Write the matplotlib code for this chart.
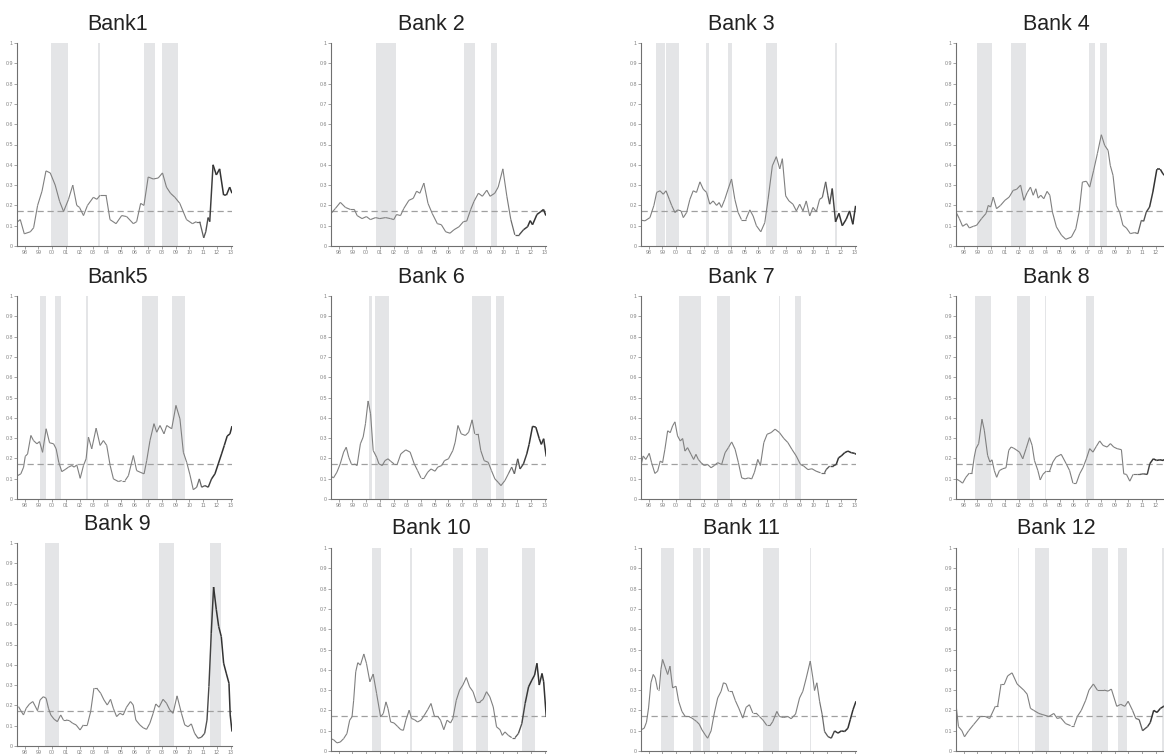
import numpy as np
import matplotlib
matplotlib.use("Agg")
import matplotlib.pyplot as plt
from matplotlib.collections import LineCollection

plt.rcParams['font.family'] = ['Liberation Sans', 'DejaVu Sans']

titles = ["Bank1", "Bank 2", "Bank 3", "Bank 4", "Bank5", "Bank 6",
          "Bank 7", "Bank 8", "Bank 9", "Bank 10", "Bank 11", "Bank 12"]

bank1_t = [1997.50, 1997.69, 1997.98, 1998.42, 1998.66, 1998.95, 1999.27, 1999.56, 1999.87, 2000.23,
           2000.55, 2000.84, 2001.20, 2001.51, 2001.80, 2002.00, 2002.29, 2002.58, 2003.01, 2003.26,
           2003.50, 2003.93, 2004.22, 2004.66, 2005.07, 2005.43, 2005.92, 2006.16, 2006.45, 2006.69,
           2007.00, 2007.37, 2007.73, 2008.04, 2008.33, 2008.62, 2008.94, 2009.30, 2009.79, 2010.22,
           2010.51, 2010.75, 2011.04, 2011.19, 2011.36, 2011.48, 2011.72, 2011.96, 2012.20, 2012.49,
           2012.69, 2012.93, 2013.10]
bank1_v = [0.12, 0.13, 0.06, 0.07, 0.09, 0.20, 0.27, 0.37, 0.36, 0.30,
           0.22, 0.17, 0.23, 0.30, 0.20, 0.19, 0.15, 0.20, 0.24, 0.23,
           0.25, 0.25, 0.13, 0.11, 0.15, 0.145, 0.11, 0.12, 0.21, 0.20,
           0.34, 0.33, 0.335, 0.36, 0.29, 0.26, 0.24, 0.21, 0.13, 0.11,
           0.12, 0.12, 0.04, 0.07, 0.14, 0.12, 0.40, 0.35, 0.38, 0.25,
           0.25, 0.29, 0.26]
bank1_shade = [(1999.92, 2001.15), (2003.38, 2003.46), (2006.69, 2007.49), (2008.04, 2009.18)]

bank2_t = [1997.45, 1997.77, 1998.13, 1998.50, 1998.86, 1999.15, 1999.35, 1999.71, 2000.03, 2000.32,
           2000.69, 2001.00, 2001.42, 2001.78, 2002.02, 2002.22, 2002.51, 2002.75, 2003.12, 2003.44,
           2003.68, 2003.92, 2004.21, 2004.51, 2004.82, 2005.19, 2005.48, 2005.80, 2006.11, 2006.40,
           2006.77, 2007.09, 2007.33, 2007.62, 2007.86, 2008.18, 2008.47, 2008.79, 2009.03, 2009.37,
           2009.62, 2009.96, 2010.25, 2010.54, 2010.83, 2011.15, 2011.46, 2011.76, 2011.95, 2012.12,
           2012.44, 2012.73, 2012.92, 2013.09]
bank2_v = [0.16, 0.185, 0.215, 0.19, 0.18, 0.18, 0.15, 0.135, 0.145, 0.13,
           0.14, 0.135, 0.14, 0.135, 0.13, 0.155, 0.15, 0.185, 0.225, 0.235,
           0.27, 0.26, 0.31, 0.21, 0.16, 0.11, 0.105, 0.07, 0.063, 0.08,
           0.095, 0.12, 0.123, 0.18, 0.22, 0.26, 0.245, 0.275, 0.245, 0.26,
           0.29, 0.38, 0.245, 0.13, 0.055, 0.055, 0.08, 0.095, 0.125, 0.105,
           0.155, 0.17, 0.18, 0.15]
bank2_shade = [(2000.76, 2002.15), (2007.16, 2007.96), (2009.10, 2009.54)]

bank3_t = [1997.45, 1997.74, 1998.10, 1998.39, 1998.59, 1998.83, 1999.07, 1999.27, 1999.51, 1999.68,
           1999.92, 2000.11, 2000.36, 2000.53, 2000.77, 2001.01, 2001.25, 2001.49, 2001.74, 2001.98,
           2002.22, 2002.46, 2002.70, 2002.95, 2003.14, 2003.31, 2003.55, 2003.79, 2004.04, 2004.28,
           2004.52, 2004.76, 2005.08, 2005.37, 2005.61, 2005.85, 2006.17, 2006.46, 2006.70, 2007.01,
           2007.30, 2007.55, 2007.74, 2007.98, 2008.22, 2008.51, 2008.76, 2009.00, 2009.24, 2009.48,
           2009.73, 2009.97, 2010.21, 2010.45, 2010.65, 2010.89, 2011.06, 2011.18, 2011.37, 2011.61,
           2011.86, 2012.10, 2012.39, 2012.63, 2012.87, 2013.07]
bank3_v = [0.127, 0.124, 0.14, 0.20, 0.264, 0.272, 0.255, 0.272, 0.23, 0.20,
           0.165, 0.178, 0.173, 0.14, 0.165, 0.23, 0.272, 0.264, 0.316, 0.28,
           0.264, 0.206, 0.222, 0.20, 0.214, 0.19, 0.23, 0.28, 0.33, 0.23,
           0.165, 0.13, 0.13, 0.178, 0.148, 0.10, 0.07, 0.115, 0.23, 0.395,
           0.44, 0.38, 0.43, 0.247, 0.222, 0.206, 0.173, 0.206, 0.173, 0.222,
           0.148, 0.19, 0.168, 0.23, 0.239, 0.316, 0.247, 0.206, 0.283, 0.119,
           0.161, 0.10, 0.132, 0.173, 0.107, 0.198]
bank3_shade = [(1998.54, 1999.19), (1999.27, 2000.23), (2002.20, 2002.37), (2003.75, 2004.11),
               (2006.58, 2007.36), (2011.59, 2011.74)]

bank4_t = [1997.45, 1997.69, 1997.93, 1998.22, 1998.42, 1998.71, 1998.95, 1999.31, 1999.63, 1999.80,
           1999.97, 2000.16, 2000.40, 2000.69, 2001.01, 2001.32, 2001.61, 2001.86, 2002.15, 2002.39,
           2002.63, 2002.87, 2003.07, 2003.26, 2003.43, 2003.62, 2003.84, 2004.08, 2004.28, 2004.47,
           2004.76, 2005.13, 2005.44, 2005.85, 2006.17, 2006.41, 2006.65, 2006.94, 2007.18, 2007.47,
           2007.74, 2008.03, 2008.27, 2008.52, 2008.68, 2008.88, 2009.12, 2009.36, 2009.60, 2009.85,
           2010.14, 2010.45, 2010.69, 2010.94, 2011.11, 2011.30, 2011.54, 2011.78, 2012.07, 2012.32,
           2012.51, 2012.63, 2012.85, 2013.05]
bank4_v = [0.167, 0.135, 0.097, 0.11, 0.089, 0.097, 0.102, 0.135, 0.16, 0.20,
           0.192, 0.241, 0.184, 0.20, 0.225, 0.241, 0.274, 0.279, 0.30, 0.225,
           0.263, 0.29, 0.25, 0.282, 0.236, 0.25, 0.233, 0.269, 0.25, 0.167,
           0.094, 0.053, 0.033, 0.044, 0.085, 0.167, 0.315, 0.319, 0.29, 0.373,
           0.455, 0.548, 0.496, 0.471, 0.397, 0.348, 0.20, 0.167, 0.102, 0.089,
           0.061, 0.066, 0.061, 0.126, 0.122, 0.167, 0.192, 0.266, 0.378, 0.378,
           0.356, 0.348, 0.31, 0.30]
bank4_shade = [(1999.00, 2000.04), (2001.47, 2002.58), (2007.11, 2007.57), (2007.91, 2008.47)]

bank5_t = [1997.49, 1997.73, 1997.93, 1998.05, 1998.22, 1998.46, 1998.65, 1998.90, 1999.09, 1999.31,
           1999.57, 1999.82, 2000.11, 2000.30, 2000.49, 2000.71, 2000.95, 2001.20, 2001.44, 2001.61,
           2001.80, 2002.05, 2002.29, 2002.48, 2002.65, 2002.89, 2003.21, 2003.50, 2003.74, 2003.98,
           2004.23, 2004.47, 2004.83, 2005.07, 2005.32, 2005.56, 2005.92, 2006.16, 2006.41, 2006.70,
           2006.89, 2007.13, 2007.42, 2007.62, 2007.86, 2008.15, 2008.35, 2008.71, 2009.02, 2009.31,
           2009.56, 2009.80, 2010.04, 2010.28, 2010.53, 2010.72, 2010.89, 2011.13, 2011.37, 2011.61,
           2011.86, 2012.10, 2012.34, 2012.54, 2012.75, 2012.95, 2013.10]
bank5_v = [0.115, 0.124, 0.157, 0.21, 0.222, 0.313, 0.288, 0.272, 0.283, 0.23,
           0.346, 0.277, 0.272, 0.247, 0.181, 0.135, 0.145, 0.157, 0.165, 0.157,
           0.168, 0.102, 0.165, 0.198, 0.305, 0.247, 0.349, 0.264, 0.288, 0.264,
           0.165, 0.099, 0.086, 0.091, 0.091, 0.115, 0.214, 0.14, 0.132, 0.124,
           0.189, 0.288, 0.371, 0.329, 0.362, 0.321, 0.362, 0.346, 0.461, 0.395,
           0.23, 0.181, 0.119, 0.046, 0.058, 0.099, 0.058, 0.066, 0.058, 0.099,
           0.124, 0.173, 0.222, 0.264, 0.31, 0.321, 0.359]
bank5_shade = [(1999.09, 1999.55), (2000.23, 2000.64), (2002.46, 2002.65), (2006.58, 2007.74),
               (2008.73, 2009.68)]

bank6_t = [1997.39, 1997.63, 1997.88, 1998.12, 1998.37, 1998.56, 1998.74, 1998.93, 1999.15, 1999.35,
           1999.59, 1999.79, 1999.96, 2000.15, 2000.33, 2000.52, 2000.77, 2000.94, 2001.18, 2001.38,
           2001.60, 2001.79, 2002.04, 2002.28, 2002.53, 2002.89, 2003.21, 2003.51, 2003.75, 2004.00,
           2004.24, 2004.49, 2004.73, 2005.02, 2005.22, 2005.51, 2005.71, 2006.00, 2006.32, 2006.49,
           2006.69, 2006.93, 2007.23, 2007.47, 2007.72, 2007.91, 2008.16, 2008.35, 2008.60, 2008.89,
           2009.13, 2009.38, 2009.62, 2009.82, 2010.11, 2010.36, 2010.60, 2010.80, 2011.04, 2011.21,
           2011.46, 2011.70, 2011.87, 2012.12, 2012.36, 2012.61, 2012.76, 2012.93, 2013.12]
bank6_v = [0.115, 0.104, 0.132, 0.173, 0.231, 0.255, 0.206, 0.173, 0.173, 0.165,
           0.272, 0.305, 0.371, 0.483, 0.42, 0.239, 0.206, 0.173, 0.165, 0.189,
           0.198, 0.186, 0.173, 0.173, 0.222, 0.242, 0.231, 0.173, 0.14, 0.104,
           0.104, 0.132, 0.148, 0.137, 0.157, 0.165, 0.189, 0.198, 0.239, 0.28,
           0.362, 0.321, 0.313, 0.329, 0.39, 0.321, 0.321, 0.239, 0.189, 0.181,
           0.14, 0.099, 0.082, 0.066, 0.091, 0.124, 0.157, 0.124, 0.198, 0.148,
           0.173, 0.222, 0.269, 0.358, 0.354, 0.297, 0.269, 0.297, 0.209]
bank6_shade = [(2000.18, 2000.40), (2000.62, 2001.70), (2007.69, 2009.11), (2009.43, 2010.04)]

bank7_t = [1997.44, 1997.61, 1997.80, 1998.05, 1998.22, 1998.46, 1998.66, 1998.85, 1999.02, 1999.19,
           1999.39, 1999.58, 1999.75, 1999.92, 2000.11, 2000.31, 2000.48, 2000.65, 2000.84, 2001.09,
           2001.28, 2001.45, 2001.62, 2001.82, 2002.06, 2002.30, 2002.55, 2002.79, 2003.03, 2003.32,
           2003.57, 2003.81, 2004.05, 2004.30, 2004.54, 2004.78, 2005.03, 2005.27, 2005.51, 2005.71,
           2005.95, 2006.14, 2006.39, 2006.63, 2006.92, 2007.21, 2007.53, 2007.85, 2008.14, 2008.43,
           2008.75, 2009.06, 2009.30, 2009.60, 2009.89, 2010.20, 2010.52, 2010.81, 2010.93, 2011.18,
           2011.42, 2011.66, 2011.83, 2012.03, 2012.27, 2012.51, 2012.76, 2013.00, 2013.10]
bank7_v = [0.162, 0.212, 0.195, 0.225, 0.179, 0.126, 0.137, 0.187, 0.179, 0.245,
           0.336, 0.327, 0.36, 0.38, 0.311, 0.286, 0.298, 0.236, 0.253, 0.22,
           0.195, 0.22, 0.195, 0.179, 0.165, 0.17, 0.154, 0.165, 0.179, 0.17,
           0.228, 0.253, 0.281, 0.245, 0.179, 0.104, 0.099, 0.104, 0.099, 0.132,
           0.195, 0.165, 0.278, 0.319, 0.327, 0.344, 0.327, 0.298, 0.278, 0.245,
           0.212, 0.17, 0.162, 0.145, 0.149, 0.137, 0.129, 0.129, 0.145, 0.162,
           0.162, 0.17, 0.203, 0.212, 0.228, 0.236, 0.228, 0.225, 0.22]
bank7_shade = [(2000.19, 2001.82), (2002.98, 2003.96), (2007.48, 2007.60), (2008.67, 2009.11)]

bank8_t = [1997.44, 1997.68, 1997.93, 1998.17, 1998.41, 1998.61, 1998.78, 1998.90, 1999.10, 1999.34,
           1999.51, 1999.75, 1999.92, 2000.07, 2000.24, 2000.41, 2000.61, 2000.85, 2001.09, 2001.29,
           2001.46, 2001.63, 2001.82, 2002.07, 2002.31, 2002.55, 2002.80, 2002.99, 2003.16, 2003.41,
           2003.58, 2003.77, 2004.01, 2004.26, 2004.50, 2004.74, 2005.11, 2005.47, 2005.72, 2005.96,
           2006.21, 2006.45, 2006.69, 2006.94, 2007.18, 2007.42, 2007.67, 2007.91, 2008.15, 2008.45,
           2008.69, 2008.93, 2009.18, 2009.49, 2009.66, 2009.86, 2010.10, 2010.34, 2010.59, 2010.83,
           2011.08, 2011.37, 2011.56, 2011.81, 2012.05, 2012.29, 2012.54, 2012.80, 2013.05]
bank8_v = [0.099, 0.091, 0.078, 0.107, 0.127, 0.127, 0.207, 0.248, 0.273, 0.393,
           0.339, 0.215, 0.182, 0.193, 0.14, 0.107, 0.14, 0.149, 0.154, 0.24,
           0.256, 0.251, 0.243, 0.231, 0.198, 0.248, 0.302, 0.264, 0.19, 0.14,
           0.094, 0.121, 0.137, 0.137, 0.182, 0.207, 0.22, 0.174, 0.14, 0.078,
           0.078, 0.124, 0.154, 0.198, 0.248, 0.231, 0.26, 0.286, 0.264, 0.256,
           0.273, 0.256, 0.248, 0.243, 0.124, 0.121, 0.088, 0.121, 0.121, 0.121,
           0.124, 0.121, 0.174, 0.198, 0.19, 0.193, 0.19, 0.19, 0.20]
bank8_shade = [(1998.80, 2000.02), (2001.87, 2002.85), (2003.96, 2004.02), (2006.94, 2007.52)]

bank9_t = [1997.56, 1997.73, 1997.92, 1998.12, 1998.36, 1998.60, 1998.77, 1998.94, 1999.13, 1999.37,
           1999.57, 1999.74, 1999.91, 2000.15, 2000.39, 2000.63, 2000.83, 2001.02, 2001.26, 2001.50,
           2001.75, 2002.04, 2002.28, 2002.57, 2002.81, 2003.05, 2003.25, 2003.54, 2003.78, 2004.02,
           2004.26, 2004.46, 2004.70, 2004.94, 2005.18, 2005.42, 2005.71, 2005.91, 2006.10, 2006.39,
           2006.63, 2006.88, 2007.12, 2007.36, 2007.55, 2007.79, 2008.08, 2008.33, 2008.57, 2008.81,
           2009.10, 2009.42, 2009.66, 2009.90, 2010.14, 2010.38, 2010.63, 2010.87, 2011.11, 2011.28,
           2011.42, 2011.59, 2011.76, 2011.96, 2012.13, 2012.32, 2012.49, 2012.68, 2012.88, 2012.97,
           2013.10]
bank9_v = [0.194, 0.174, 0.153, 0.186, 0.207, 0.219, 0.197, 0.174, 0.227, 0.243,
           0.235, 0.186, 0.153, 0.132, 0.12, 0.153, 0.128, 0.128, 0.125, 0.112,
           0.104, 0.079, 0.104, 0.104, 0.169, 0.285, 0.285, 0.26, 0.227, 0.202,
           0.23, 0.186, 0.145, 0.161, 0.153, 0.191, 0.219, 0.202, 0.128, 0.104,
           0.09, 0.082, 0.112, 0.161, 0.207, 0.191, 0.23, 0.211, 0.178, 0.161,
           0.247, 0.161, 0.104, 0.095, 0.109, 0.0625, 0.038, 0.043, 0.0625, 0.128,
           0.293, 0.556, 0.783, 0.671, 0.589, 0.539, 0.408, 0.359, 0.309, 0.153,
           0.071]
bank9_shade = [(1999.50, 2000.49), (2007.79, 2008.88), (2011.50, 2012.27), (2013.07, 2013.14)]

bank10_t = [1997.39, 1997.63, 1997.88, 1998.12, 1998.37, 1998.61, 1998.81, 1998.98, 1999.10, 1999.25,
            1999.40, 1999.59, 1999.84, 2000.03, 2000.28, 2000.52, 2000.77, 2001.06, 2001.26, 2001.45,
            2001.60, 2001.79, 2002.04, 2002.28, 2002.53, 2002.72, 2002.90, 2003.14, 2003.31, 2003.51,
            2003.75, 2004.00, 2004.24, 2004.49, 2004.73, 2004.98, 2005.22, 2005.42, 2005.66, 2005.90,
            2006.15, 2006.32, 2006.57, 2006.81, 2007.05, 2007.30, 2007.54, 2007.79, 2008.03, 2008.28,
            2008.52, 2008.77, 2009.01, 2009.26, 2009.50, 2009.75, 2009.92, 2010.11, 2010.36, 2010.60,
            2010.85, 2011.09, 2011.34, 2011.58, 2011.83, 2012.07, 2012.27, 2012.44, 2012.61, 2012.81,
            2012.93, 2013.12]
bank10_v = [0.061, 0.056, 0.04, 0.044, 0.061, 0.086, 0.152, 0.168, 0.25, 0.39,
            0.435, 0.423, 0.478, 0.432, 0.341, 0.379, 0.283, 0.168, 0.185, 0.242,
            0.209, 0.143, 0.138, 0.122, 0.105, 0.102, 0.152, 0.201, 0.16, 0.155,
            0.143, 0.152, 0.176, 0.204, 0.234, 0.171, 0.171, 0.152, 0.105, 0.152,
            0.138, 0.16, 0.25, 0.30, 0.325, 0.362, 0.316, 0.292, 0.242, 0.242,
            0.254, 0.292, 0.267, 0.217, 0.119, 0.105, 0.077, 0.094, 0.077, 0.066,
            0.066, 0.086, 0.135, 0.234, 0.316, 0.349, 0.374, 0.432, 0.325, 0.382,
            0.341, 0.168]
bank10_shade = [(2000.47, 2001.06), (2003.21, 2003.38), (2006.32, 2007.08), (2007.98, 2008.91),
                (2011.36, 2012.27)]

bank11_t = [1997.44, 1997.68, 1997.85, 1998.00, 1998.17, 1998.34, 1998.49, 1998.66, 1998.78, 1998.90,
            1999.02, 1999.21, 1999.39, 1999.56, 1999.75, 2000.00, 2000.19, 2000.43, 2000.67, 2000.92,
            2001.16, 2001.33, 2001.50, 2001.69, 2001.89, 2002.13, 2002.30, 2002.55, 2002.79, 2003.03,
            2003.28, 2003.45, 2003.64, 2003.83, 2004.08, 2004.32, 2004.56, 2004.86, 2005.10, 2005.34,
            2005.59, 2005.83, 2006.07, 2006.31, 2006.61, 2006.85, 2007.04, 2007.34, 2007.53, 2007.82,
            2008.14, 2008.38, 2008.70, 2008.99, 2009.23, 2009.48, 2009.77, 2009.96, 2010.08, 2010.25,
            2010.45, 2010.64, 2010.81, 2011.06, 2011.30, 2011.54, 2011.79, 2012.03, 2012.27, 2012.51,
            2012.68, 2012.88, 2013.10]
bank11_v = [0.104, 0.112, 0.142, 0.212, 0.336, 0.377, 0.36, 0.302, 0.302, 0.402,
            0.451, 0.413, 0.377, 0.418, 0.311, 0.319, 0.245, 0.195, 0.17, 0.17,
            0.162, 0.154, 0.145, 0.132, 0.104, 0.079, 0.063, 0.099, 0.187, 0.261,
            0.294, 0.336, 0.331, 0.294, 0.294, 0.248, 0.212, 0.162, 0.215, 0.228,
            0.187, 0.187, 0.17, 0.154, 0.126, 0.126, 0.145, 0.195, 0.17, 0.165,
            0.17, 0.159, 0.182, 0.261, 0.294, 0.36, 0.443, 0.36, 0.298, 0.336,
            0.245, 0.179, 0.096, 0.071, 0.063, 0.099, 0.088, 0.099, 0.096, 0.112,
            0.154, 0.203, 0.245]
bank11_shade = [(1998.92, 1999.82), (2001.26, 2001.79), (2001.99, 2002.50), (2006.31, 2007.48),
                (2009.72, 2009.86)]

bank12_t = [1997.40, 1997.63, 1997.88, 1998.07, 1998.37, 1998.73, 1999.22, 1999.58, 1999.90, 2000.31,
            2000.48, 2000.73, 2000.97, 2001.21, 2001.53, 2001.90, 2002.38, 2002.63, 2002.87, 2003.11,
            2003.48, 2003.72, 2004.21, 2004.57, 2004.82, 2005.06, 2005.43, 2005.79, 2006.04, 2006.28,
            2006.57, 2006.89, 2007.13, 2007.45, 2007.74, 2008.23, 2008.52, 2008.76, 2009.15, 2009.44,
            2009.74, 2009.98, 2010.30, 2010.54, 2010.78, 2011.03, 2011.39, 2011.59, 2011.84, 2012.08,
            2012.33, 2012.57, 2012.85, 2013.05]
bank12_v = [0.26, 0.12, 0.10, 0.07, 0.10, 0.13, 0.17, 0.17, 0.16, 0.22,
            0.22, 0.33, 0.33, 0.37, 0.385, 0.33, 0.30, 0.28, 0.21, 0.20,
            0.185, 0.18, 0.17, 0.185, 0.16, 0.165, 0.135, 0.125, 0.125, 0.17,
            0.20, 0.25, 0.30, 0.33, 0.30, 0.30, 0.295, 0.305, 0.22, 0.23,
            0.22, 0.245, 0.20, 0.16, 0.155, 0.10, 0.12, 0.14, 0.20, 0.19,
            0.21, 0.22, 0.23, 0.24]
bank12_shade = [(2001.99, 2002.05), (2003.23, 2004.21), (2007.33, 2008.54), (2009.22, 2009.88),
                (2012.41, 2013.10)]

series_t = [bank1_t, bank2_t, bank3_t, bank4_t, bank5_t, bank6_t,
            bank7_t, bank8_t, bank9_t, bank10_t, bank11_t, bank12_t]
series_v = [bank1_v, bank2_v, bank3_v, bank4_v, bank5_v, bank6_v,
            bank7_v, bank8_v, bank9_v, bank10_v, bank11_v, bank12_v]
shades = [bank1_shade, bank2_shade, bank3_shade, bank4_shade, bank5_shade, bank6_shade,
          bank7_shade, bank8_shade, bank9_shade, bank10_shade, bank11_shade, bank12_shade]
threshold = 0.17

years = list(range(1998, 2014))
year_labels = ["%02d" % (y % 100) for y in years]
yticks = [i / 10 for i in range(11)]
ytick_labels = ["0"] + ["0.%d" % i for i in range(1, 10)] + ["1"]

W, H = 1164, 754
fig = plt.figure(figsize=(W / 100, H / 100), dpi=100)

col_left = [17, 331, 641, 956]
row_top = [43, 296, 548]
ax_w, ax_h = 215, 203

for i in range(12):
    r, c = divmod(i, 4)
    top = row_top[r] - (5 if i == 8 else 0)
    left = col_left[c]
    ax = fig.add_axes([left / W, 1 - (top + ax_h) / H, ax_w / W, ax_h / H])

    for a, b in shades[i]:
        ax.axvspan(a, b, color="#e4e5e7", lw=0, zorder=0)
    ax.axhline(threshold, color="#a0a0a0", ls=(0, (5, 3)), lw=0.9, zorder=1)

    # line darkens over the last couple of years
    t = np.array(series_t[i])
    v = np.array(series_v[i])
    pts = np.column_stack([t, v]).reshape(-1, 1, 2)
    segs = np.concatenate([pts[:-1], pts[1:]], axis=1)
    mid = (t[:-1] + t[1:]) / 2
    k = np.clip((mid - 2010.3) / 1.5, 0, 1)
    grey = 0.5 - 0.3 * k
    cols = [(g, g, g) for g in grey]
    lws = 0.8 + 0.3 * k
    ax.add_collection(LineCollection(segs, colors=cols, linewidths=lws, zorder=2))

    ax.set_xlim(1997.45, 2013.1)
    ax.set_ylim(0, 1)
    ax.set_xticks(years)
    ax.set_xticklabels(year_labels)
    ax.set_yticks(yticks)
    ax.set_yticklabels(ytick_labels)
    ax.tick_params(length=2, width=0.5, labelsize=3.8, colors="#808080", pad=1)
    for s in ["top", "right"]:
        ax.spines[s].set_visible(False)
    for s in ["left", "bottom"]:
        ax.spines[s].set_color("#707070")
        ax.spines[s].set_linewidth(0.8)

    fig.text((left + ax_w / 2 - 7) / W, 1 - (top - 19) / H, titles[i],
             ha="center", va="center", fontsize=15.5, color="#222222")

fig.savefig("out.png", dpi=100)
